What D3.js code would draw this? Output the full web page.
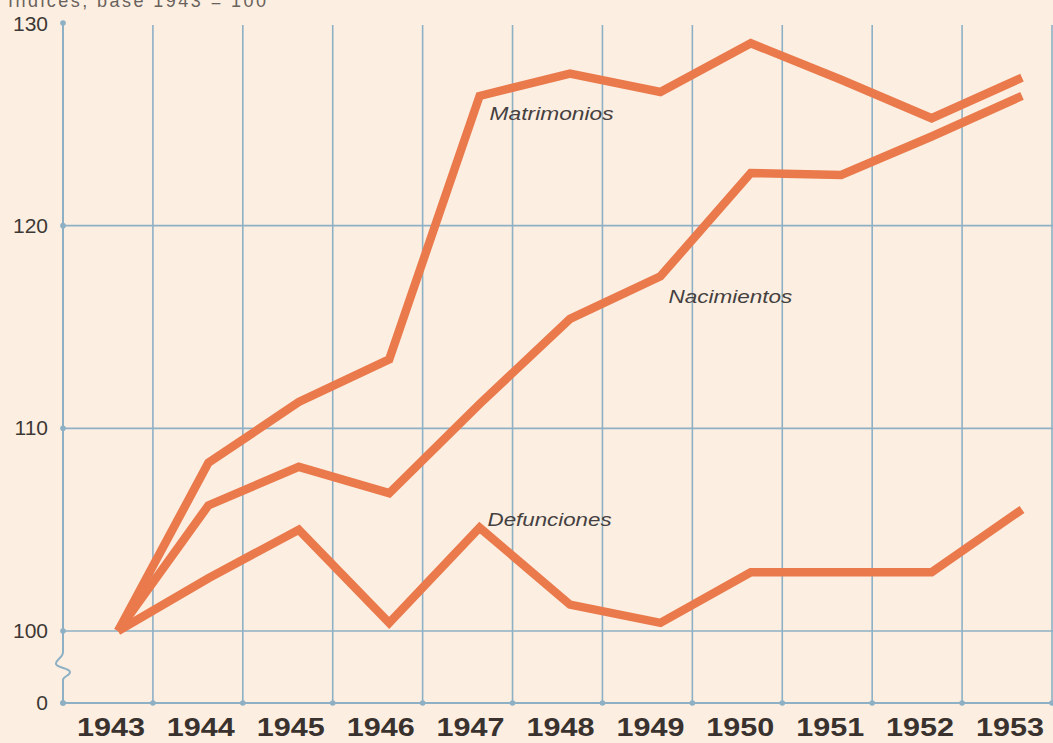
<!DOCTYPE html>
<html>
<head>
<meta charset="utf-8">
<script src="https://cdn.jsdelivr.net/npm/d3@7"></script>
<style>
  html, body { margin: 0; padding: 0; background: #fcefe2; }
  svg { display: block; }
</style>
</head>
<body>
<svg id="chart" width="1053" height="743"></svg>
<script>
// ---- Data ----
const years = [1943, 1944, 1945, 1946, 1947, 1948, 1949, 1950, 1951, 1952, 1953];
const matrimonios = [100, 108.3, 111.3, 113.4, 126.4, 127.5, 126.6, 129.0, 127.2, 125.3, 127.3];
const nacimientos = [100, 106.2, 108.1, 106.8, 111.2, 115.4, 117.5, 122.6, 122.5, 124.4, 126.4];
const defunciones = [100, 102.6, 105.0, 100.4, 105.1, 101.3, 100.4, 102.9, 102.9, 102.9, 106.0];
const seriesNames = ["Matrimonios", "Nacimientos", "Defunciones"];
const yTicks = [0, 100, 110, 120, 130];
const yGrid = [100, 110, 120];
const subtitle = "Índices, base 1943 = 100";

// ---- Styles ----
const bg = "#fcefe2";
const gridColor = "#8db0c5";
const lineColor = "#ea7a4c";
const textColor = "#3e3834";

const svg = d3.select("#chart");
svg.append("rect").attr("width", 1053).attr("height", 743).attr("fill", bg);

// Scales
const xBand = d3.scaleBand().domain(years).range([63, 1052]).paddingInner(0).paddingOuter(0);
const xPt = d3.scalePoint().domain(years).range([118, 1022]);
// broken axis: 0 at the bottom, 100..130 stretched
const y = d3.scaleLinear().domain([0, 100, 130]).range([703, 631, 23]);

// Subtitle (cut at top, as in the reference)
svg.append("text")
  .attr("x", 8).attr("y", 7)
  .attr("font-family", "Liberation Sans, Arial, sans-serif")
  .attr("font-size", 18)
  .attr("fill", "#6a625c")
  .attr("textLength", 258)
  .text(subtitle);

const grid = svg.append("g");

// Horizontal grid lines
grid.selectAll("line.h").data(yGrid).join("line")
  .attr("class", "h")
  .attr("x1", 63).attr("x2", 1053)
  .attr("y1", d => y(d)).attr("y2", d => y(d))
  .attr("stroke", gridColor).attr("stroke-width", 1.6);

// Baseline (0)
grid.append("line")
  .attr("x1", 63).attr("x2", 1053)
  .attr("y1", y(0)).attr("y2", y(0))
  .attr("stroke", gridColor).attr("stroke-width", 2);

// Vertical grid lines at band boundaries
const boundaries = years.map(d => xBand(d)).concat([xBand.range()[1]]);
grid.selectAll("line.v").data(boundaries.slice(1)).join("line")
  .attr("class", "v")
  .attr("x1", d => d).attr("x2", d => d)
  .attr("y1", y(130) + 2).attr("y2", y(0))
  .attr("stroke", gridColor).attr("stroke-width", 1.6);

// Y axis with break
const ax = xBand.range()[0];
const yb1 = 652, yb2 = 680;
grid.append("path")
  .attr("d", `M${ax},${y(130)} L${ax},${yb1}
              C${ax},${yb1 + 6} ${ax - 8},${yb1 + 8} ${ax - 7},${yb1 + 12}
              C${ax - 6},${yb1 + 16} ${ax + 7},${yb1 + 16} ${ax + 7},${yb1 + 20}
              C${ax + 7},${yb1 + 24} ${ax},${yb1 + 24} ${ax},${yb2}
              L${ax},${y(0)}`)
  .attr("fill", "none")
  .attr("stroke", gridColor).attr("stroke-width", 2);

// Dots on axes
grid.selectAll("circle.ya").data(yTicks).join("circle")
  .attr("class", "ya")
  .attr("cx", ax).attr("cy", d => y(d)).attr("r", 2.8)
  .attr("fill", gridColor);
grid.selectAll("circle.xa").data(boundaries).join("circle")
  .attr("class", "xa")
  .attr("cx", d => d).attr("cy", y(0)).attr("r", 2.8)
  .attr("fill", gridColor);

// Y tick labels
svg.append("g").selectAll("text").data(yTicks).join("text")
  .attr("x", 48).attr("y", d => y(d) + (d === 130 ? 8 : 7))
  .attr("text-anchor", "end")
  .attr("font-family", "Liberation Sans, Arial, sans-serif")
  .attr("font-size", 21)
  .attr("fill", textColor)
  .text(d => d);

// X labels
svg.append("g").selectAll("text").data(years).join("text")
  .attr("x", d => xBand(d) + xBand.bandwidth() / 2 + 3)
  .attr("y", 736)
  .attr("text-anchor", "middle")
  .attr("font-family", "Liberation Sans, Arial, sans-serif")
  .attr("font-size", 25)
  .attr("font-weight", "bold")
  .attr("fill", "#3a322e")
  .attr("textLength", 68)
  .attr("lengthAdjust", "spacingAndGlyphs")
  .text(d => d);

// Lines
const seriesData = [matrimonios, nacimientos, defunciones];
const line = d3.line().x((d, i) => xPt(years[i])).y(d => y(d));
svg.append("g").selectAll("path").data(seriesData).join("path")
  .attr("d", d => line(d))
  .attr("fill", "none")
  .attr("stroke", lineColor)
  .attr("stroke-width", 8.5)
  .attr("stroke-linejoin", "miter")
  .attr("stroke-miterlimit", 20)
  .attr("stroke-linecap", "butt");

// Series labels
const labelAnchors = [
  { name: seriesNames[0], year: 1947, dx: 10, v: 125.2 },
  { name: seriesNames[1], year: 1949, dx: 8, v: 116.2 },
  { name: seriesNames[2], year: 1947, dx: 8, v: 105.2 }
];
svg.append("g").selectAll("text").data(labelAnchors).join("text")
  .attr("x", d => xPt(d.year) + d.dx)
  .attr("y", d => y(d.v))
  .attr("font-family", "Liberation Sans, Arial, sans-serif")
  .attr("font-style", "italic")
  .attr("font-size", 18)
  .attr("fill", "#454040")
  .attr("textLength", 124)
  .attr("lengthAdjust", "spacingAndGlyphs")
  .text(d => d.name);
</script>
</body>
</html>
